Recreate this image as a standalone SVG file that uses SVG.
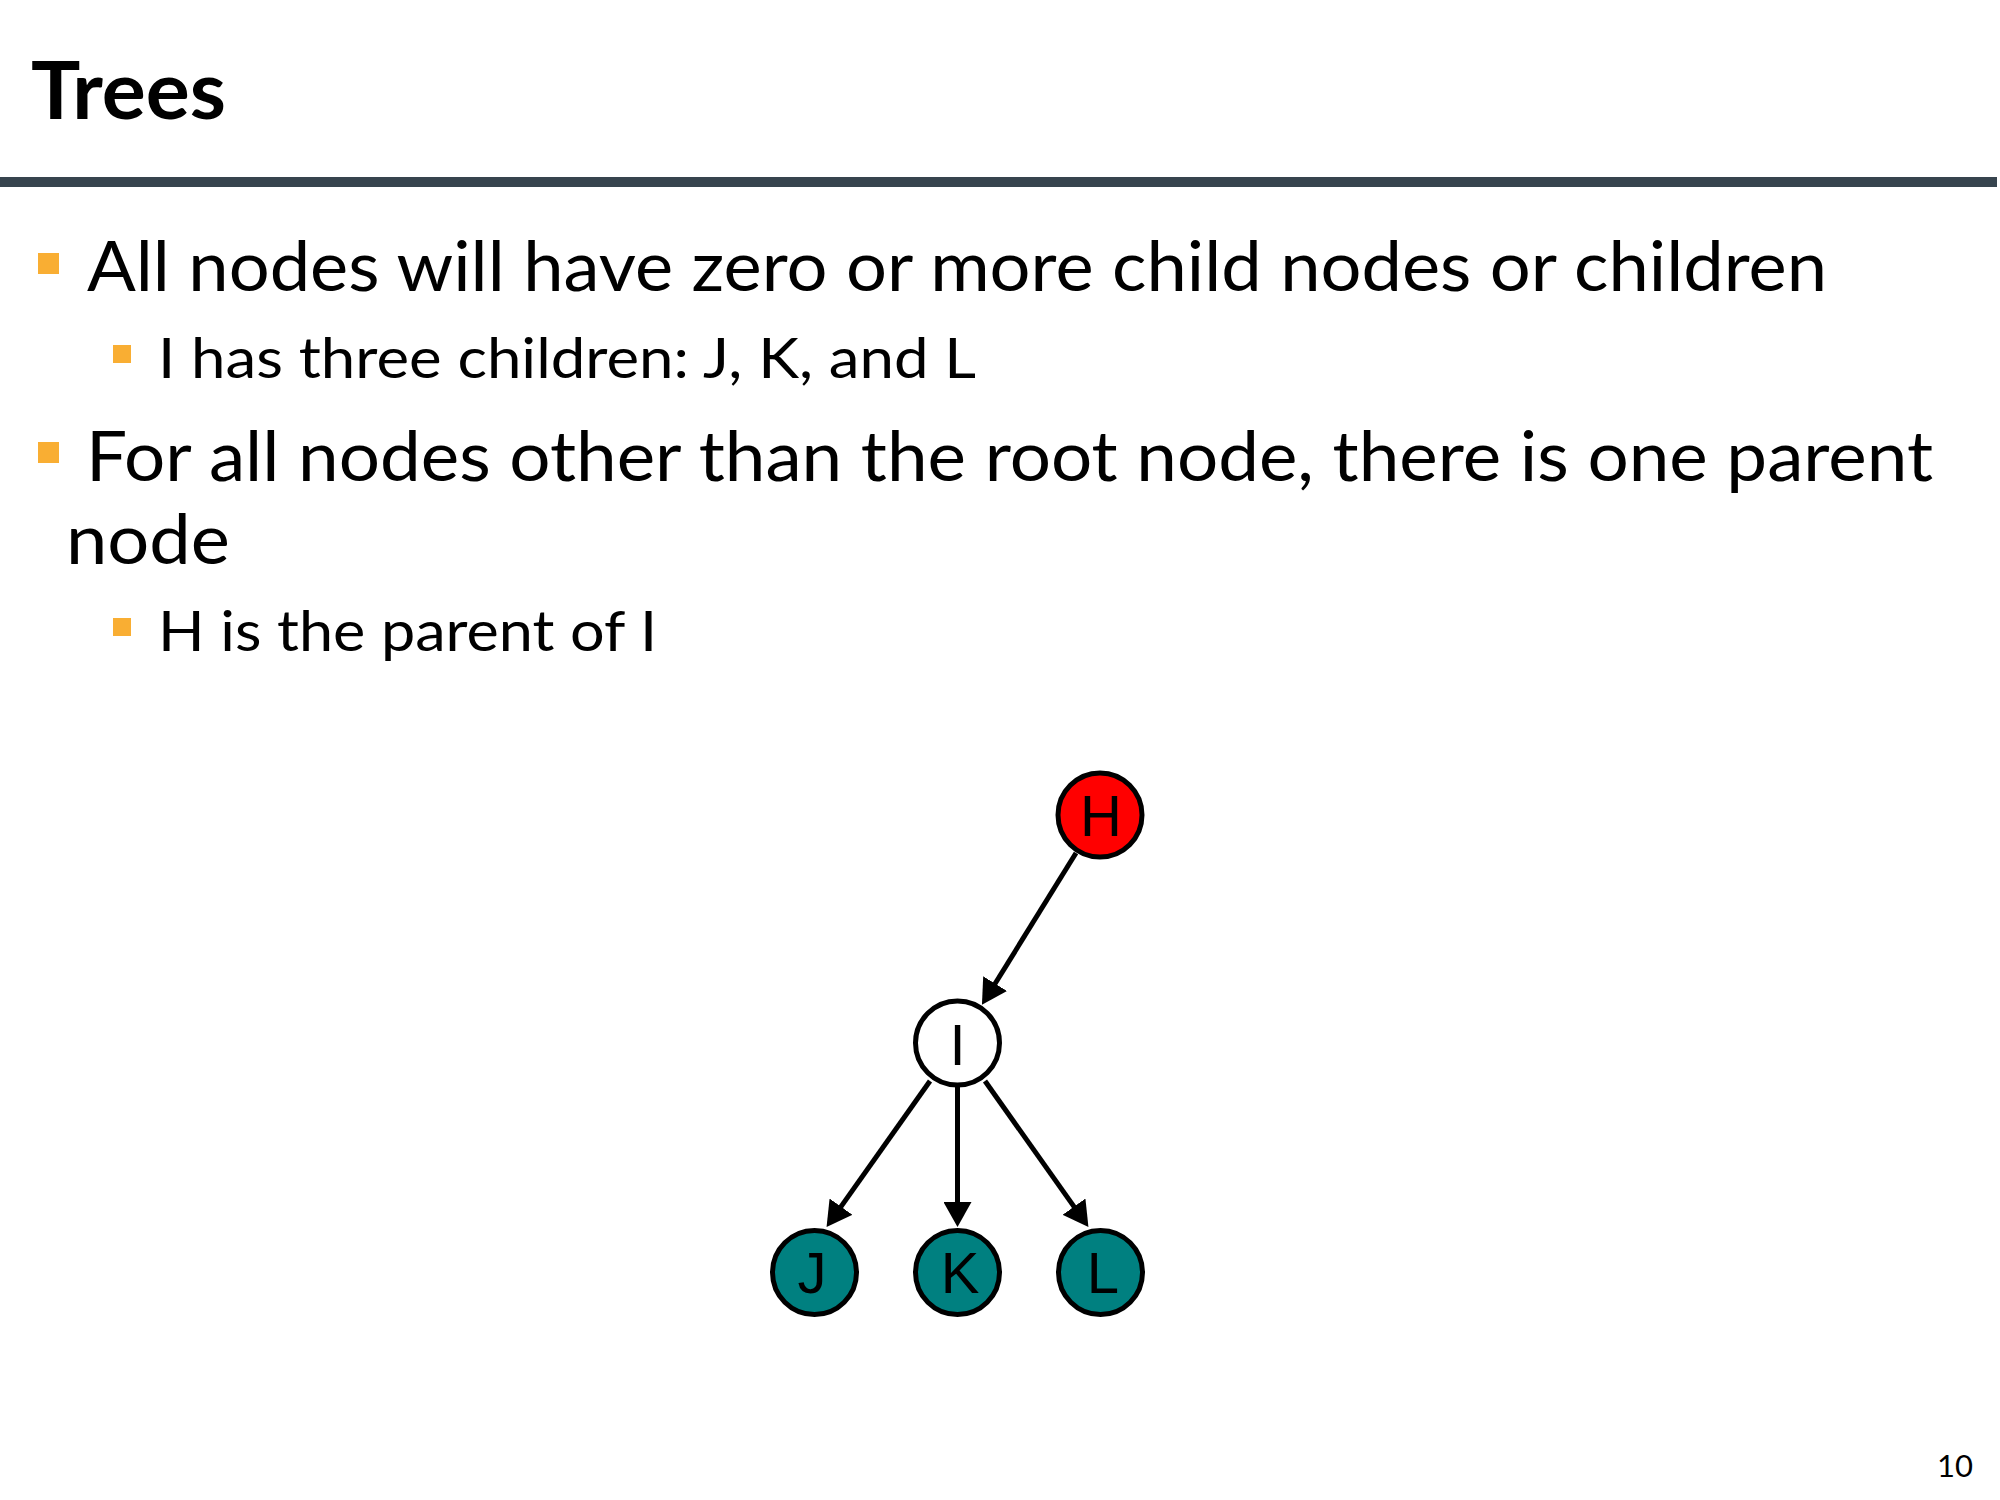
<svg xmlns="http://www.w3.org/2000/svg" width="2000" height="1500" viewBox="0 0 2000 1500">
  <defs>
    <style>
      .title { font-family: Lato, "Open Sans", sans-serif; font-weight: bold; font-size: 80px; fill: #000; }
      .l1 { font-family: Lato, "Open Sans", sans-serif; font-size: 70px; fill: #000; }
      .l2 { font-family: Lato, "Open Sans", sans-serif; font-size: 57px; fill: #000; }
      .pg { font-family: Lato, "Open Sans", sans-serif; font-size: 31px; fill: #000; }
      .bul { fill: #F9AE33; }
      .node circle { stroke: #000; stroke-width: 5; }
      .node text { font-family: "Liberation Sans", Arial, sans-serif; font-size: 58px; fill: #000; text-anchor: middle; }
      .edge { stroke: #000; stroke-width: 5; fill: none; marker-end: url(#arrow); }
    </style>
    <marker id="arrow" viewBox="0 0 25 28" refX="4" refY="14" markerWidth="25" markerHeight="28" markerUnits="userSpaceOnUse" orient="auto">
      <path d="M0,0 L25,14 L0,28 z" fill="#000"/>
    </marker>
  </defs>
  <rect width="2000" height="1500" fill="#fff"/>

  <text class="title" x="31" y="119" textLength="195" lengthAdjust="spacingAndGlyphs">Trees</text>
  <rect x="0" y="177" width="1997" height="10" fill="#37444E"/>

  <rect class="bul" x="38" y="253" width="21" height="21"/>
  <text class="l1" x="87" y="291" textLength="1740" lengthAdjust="spacingAndGlyphs">All nodes will have zero or more child nodes or children</text>
  <rect class="bul" x="113" y="345" width="18" height="18"/>
  <text class="l2" x="158" y="378" textLength="818" lengthAdjust="spacingAndGlyphs">I has three children: J, K, and L</text>

  <rect class="bul" x="38" y="442" width="21" height="21"/>
  <text class="l1" x="86" y="481" textLength="1847" lengthAdjust="spacingAndGlyphs">For all nodes other than the root node, there is one parent</text>
  <text class="l1" x="66" y="564" textLength="164" lengthAdjust="spacingAndGlyphs">node</text>
  <rect class="bul" x="113" y="618" width="18" height="18"/>
  <text class="l2" x="158" y="651" textLength="499" lengthAdjust="spacingAndGlyphs">H is the parent of I</text>

  <text class="pg" x="1937" y="1477">10</text>

  <g id="connectors">
    <line class="edge" x1="1076" y1="853" x2="993" y2="987"/>
    <line class="edge" x1="930" y1="1081" x2="838.7" y2="1209.9"/>
    <line class="edge" x1="957.5" y1="1087" x2="957.5" y2="1206"/>
    <line class="edge" x1="985" y1="1081" x2="1076.3" y2="1209.9"/>
  </g>

  <g id="node-H" class="node">
    <circle cx="1100" cy="815" r="42" fill="#FF0000"/>
    <text x="1101" y="836">H</text>
  </g>
  <g id="node-I" class="node">
    <circle cx="957.5" cy="1043" r="42" fill="#FFFFFF"/>
    <text x="957.5" y="1065">I</text>
  </g>
  <g id="node-J" class="node">
    <circle cx="814.5" cy="1272.5" r="42" fill="#008080"/>
    <text x="812" y="1293">J</text>
  </g>
  <g id="node-K" class="node">
    <circle cx="957.5" cy="1272.5" r="42" fill="#008080"/>
    <text x="960" y="1293">K</text>
  </g>
  <g id="node-L" class="node">
    <circle cx="1100.5" cy="1272.5" r="42" fill="#008080"/>
    <text x="1103" y="1293">L</text>
  </g>
</svg>
